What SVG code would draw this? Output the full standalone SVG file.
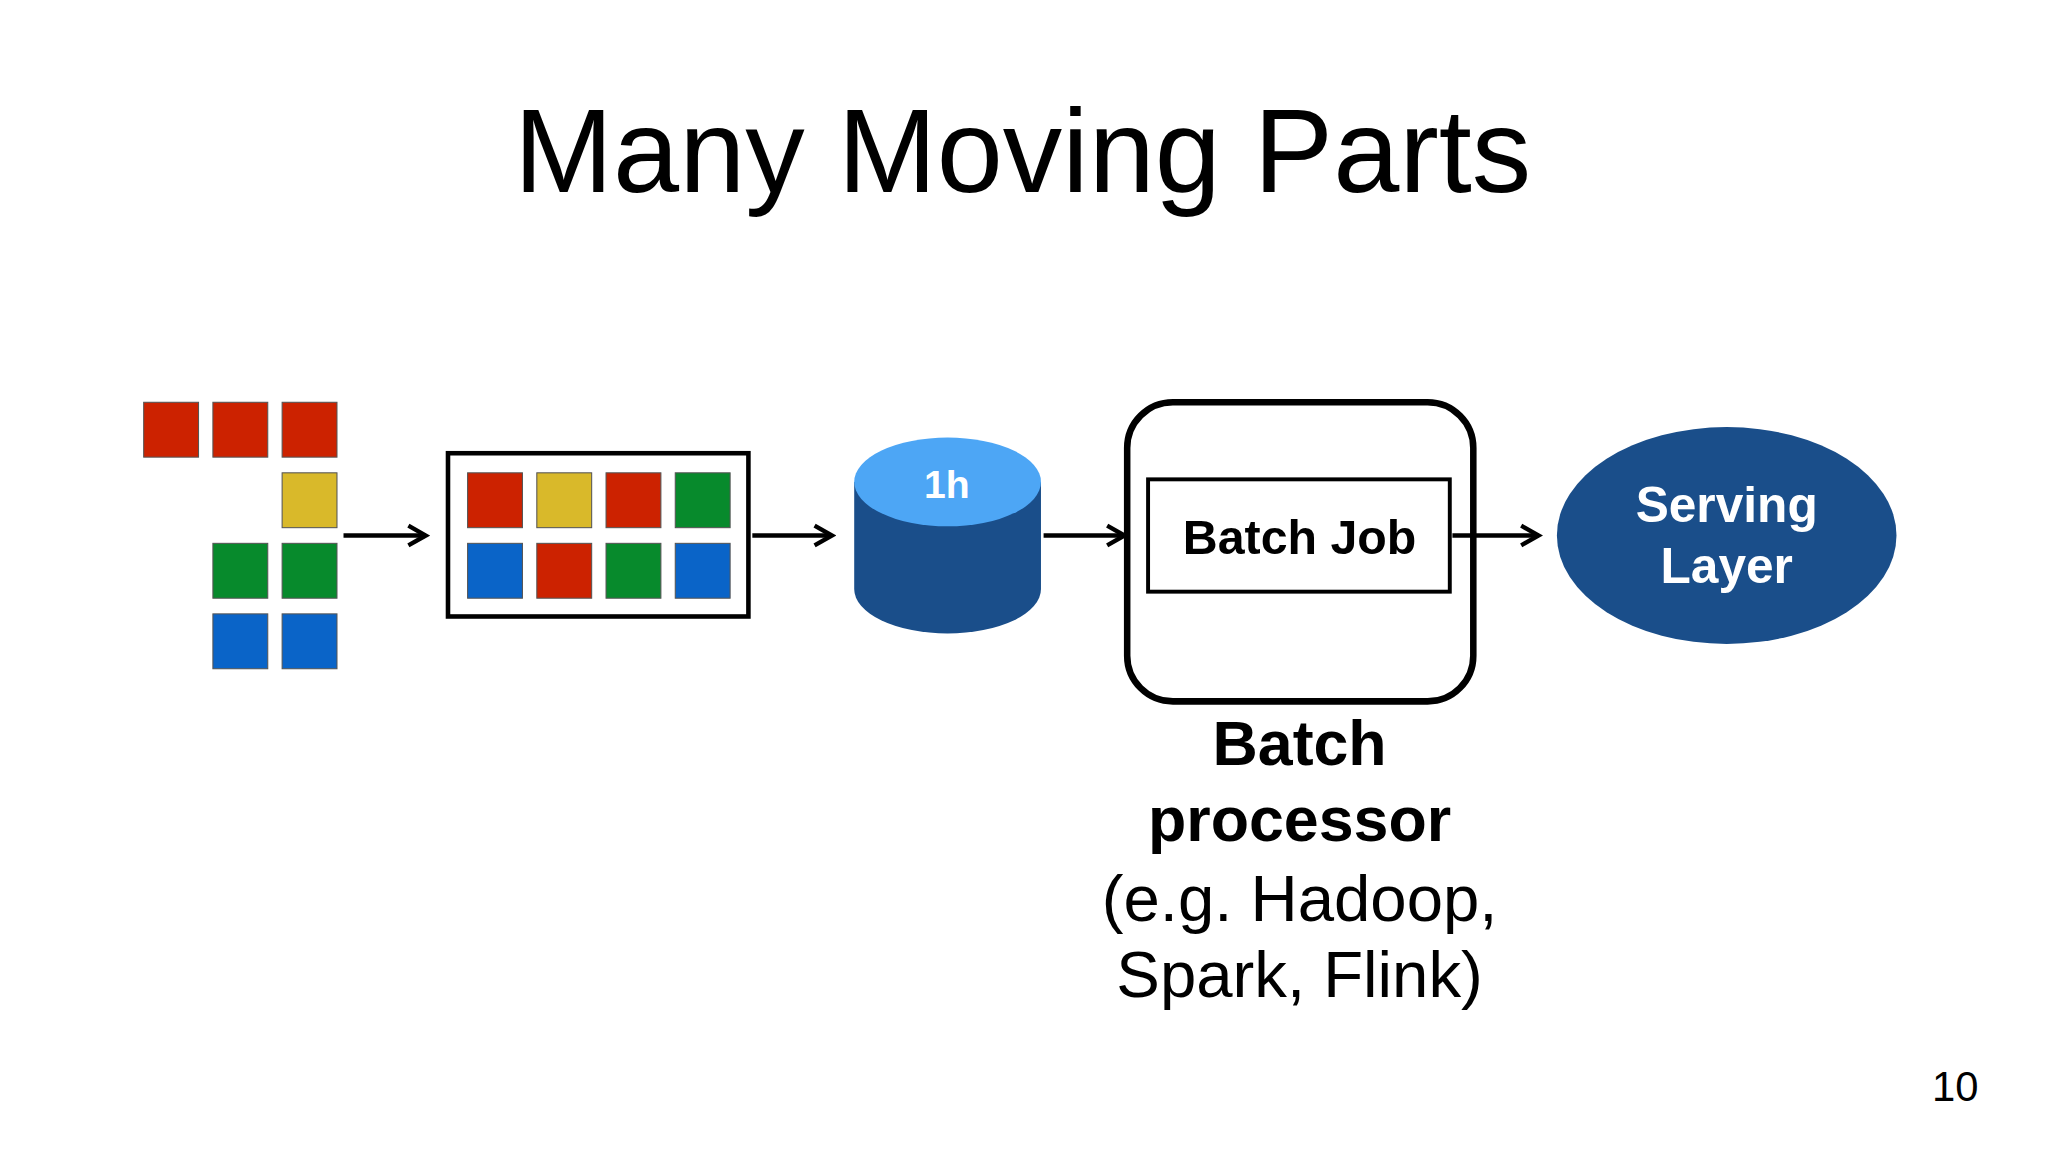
<svg xmlns="http://www.w3.org/2000/svg" width="2048" height="1152" viewBox="0 0 2048 1152">
<style>
.r{fill:#cc2200}.y{fill:#d9b92a}.g{fill:#078a2c}.b{fill:#0a64c8}
.sq rect{stroke:#555;stroke-width:0.8}
.ar{stroke:#000;stroke-width:3.5;fill:none;marker-end:url(#ah)}
text{font-family:"Liberation Sans",Arial,sans-serif;text-anchor:middle}
</style>
<defs><marker id="ah" viewBox="0 0 12 12" refX="10" refY="6" markerWidth="20" markerHeight="20" markerUnits="userSpaceOnUse" orient="auto"><path d="M2 1.5 L10 6 L2 10.5" fill="none" stroke="#000" stroke-width="2"/></marker></defs>
<rect width="2048" height="1152" fill="#fff"/>
<g transform="scale(1.30612)">
<text x="783" y="147" font-size="91">Many Moving Parts</text>
<g id="sources" class="sq">
<rect class="r" x="110" y="308" width="42" height="42"/><rect class="r" x="163" y="308" width="42" height="42"/><rect class="r" x="216" y="308" width="42" height="42"/>
<rect class="y" x="216" y="362" width="42" height="42"/>
<rect class="g" x="163" y="416" width="42" height="42"/><rect class="g" x="216" y="416" width="42" height="42"/>
<rect class="b" x="163" y="470" width="42" height="42"/><rect class="b" x="216" y="470" width="42" height="42"/>
</g>
<g id="buffer">
<rect x="343" y="347" width="230" height="125" fill="#fff" stroke="#000" stroke-width="3.5"/>
<g class="sq">
<rect class="r" x="358" y="362" width="42" height="42"/><rect class="y" x="411" y="362" width="42" height="42"/><rect class="r" x="464" y="362" width="42" height="42"/><rect class="g" x="517" y="362" width="42" height="42"/>
<rect class="b" x="358" y="416" width="42" height="42"/><rect class="r" x="411" y="416" width="42" height="42"/><rect class="g" x="464" y="416" width="42" height="42"/><rect class="b" x="517" y="416" width="42" height="42"/>
</g>
</g>
<g id="storage">
<path d="M654 369 V451 A71.5 34 0 0 0 797 451 V369 Z" fill="#1a4e8a"/>
<ellipse cx="725.5" cy="369" rx="71.5" ry="34" fill="#4da6f5"/>
<text x="725" y="381" font-size="30" font-weight="bold" fill="#fff">1h</text>
</g>
<g id="batch">
<rect x="863" y="308" width="265" height="229" rx="35" fill="#fff" stroke="#000" stroke-width="5"/>
<rect x="879" y="367" width="231" height="86" fill="#fff" stroke="#000" stroke-width="3"/>
<text x="995" y="424" font-size="37" font-weight="bold">Batch Job</text>
<text x="995" y="586" font-size="48" font-weight="bold">Batch</text>
<text x="995" y="644" font-size="48" font-weight="bold">processor</text>
<text x="995" y="705" font-size="50">(e.g. Hadoop,</text>
<text x="995" y="763" font-size="50">Spark, Flink)</text>
</g>
<g id="serving">
<ellipse cx="1322" cy="410" rx="130" ry="83" fill="#1a4e8a"/>
<text x="1322" y="400" font-size="38" font-weight="bold" fill="#fff">Serving</text>
<text x="1322" y="446" font-size="38" font-weight="bold" fill="#fff">Layer</text>
</g>
<g id="connectors">
<line class="ar" x1="263" y1="410" x2="326" y2="410"/>
<line class="ar" x1="576" y1="410" x2="637" y2="410"/>
<line class="ar" x1="799" y1="410" x2="861" y2="410"/>
<line class="ar" x1="1112" y1="410" x2="1178" y2="410"/>
</g>
<text x="1497" y="843" font-size="32">10</text>
</g>
</svg>
